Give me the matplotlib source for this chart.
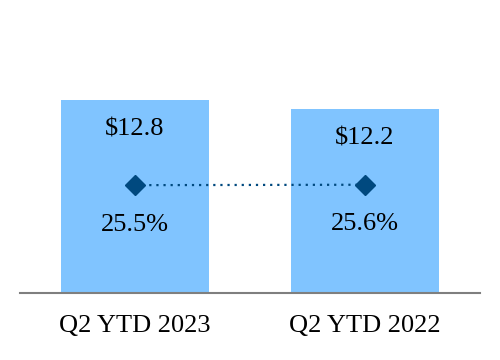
import numpy as np
import matplotlib
matplotlib.use("Agg")
import matplotlib.pyplot as plt

plt.rcParams['font.family'] = ['Liberation Serif', 'DejaVu Serif']

periods = ['Q2 YTD 2023', 'Q2 YTD 2022']
revenue = [12.8, 12.2]      # $ billions
margin = [25.5, 25.6]       # percent

bar_color = '#80C4FF'
mark_color = '#00497F'

x = np.arange(len(periods))

fig = plt.figure(figsize=(5, 3.6), dpi=100)
ax = fig.add_axes([0.04, 0.186, 0.92, 0.758])
ax.bar(x, revenue, 0.64, color=bar_color, zorder=1)
ax.set_xlim(-0.5, 1.5)
ax.set_ylim(0, 18.1)
for xi, v in zip(x, revenue):
    ax.annotate('$%.1f' % v, (xi, v), xytext=(0, -21), textcoords='offset points',
                ha='center', va='center', fontsize=19)

for s in ['top', 'left', 'right']:
    ax.spines[s].set_visible(False)
ax.spines['bottom'].set_color('#7f7f7f')
ax.spines['bottom'].set_linewidth(1.5)
ax.set_yticks([])
ax.set_xticks(x)
ax.set_xticklabels(periods, fontsize=19)
ax.tick_params(axis='x', length=0, pad=16)

# margin on secondary axis
ax2 = ax.twinx()
ax2.set_ylim(0, 64.5)
ax2.plot(x, margin, color=mark_color, linestyle=(0, (1, 2.2)), linewidth=1.6,
         marker='D', markersize=10, zorder=3)
for xi, m in zip(x, margin):
    ax2.annotate('%.1f%%' % m, (xi, m), xytext=(0, -28.5), textcoords='offset points',
                 ha='center', va='center', fontsize=19)
ax2.set_yticks([])
for s in ax2.spines.values():
    s.set_visible(False)

fig.savefig('out.png', dpi=100)
